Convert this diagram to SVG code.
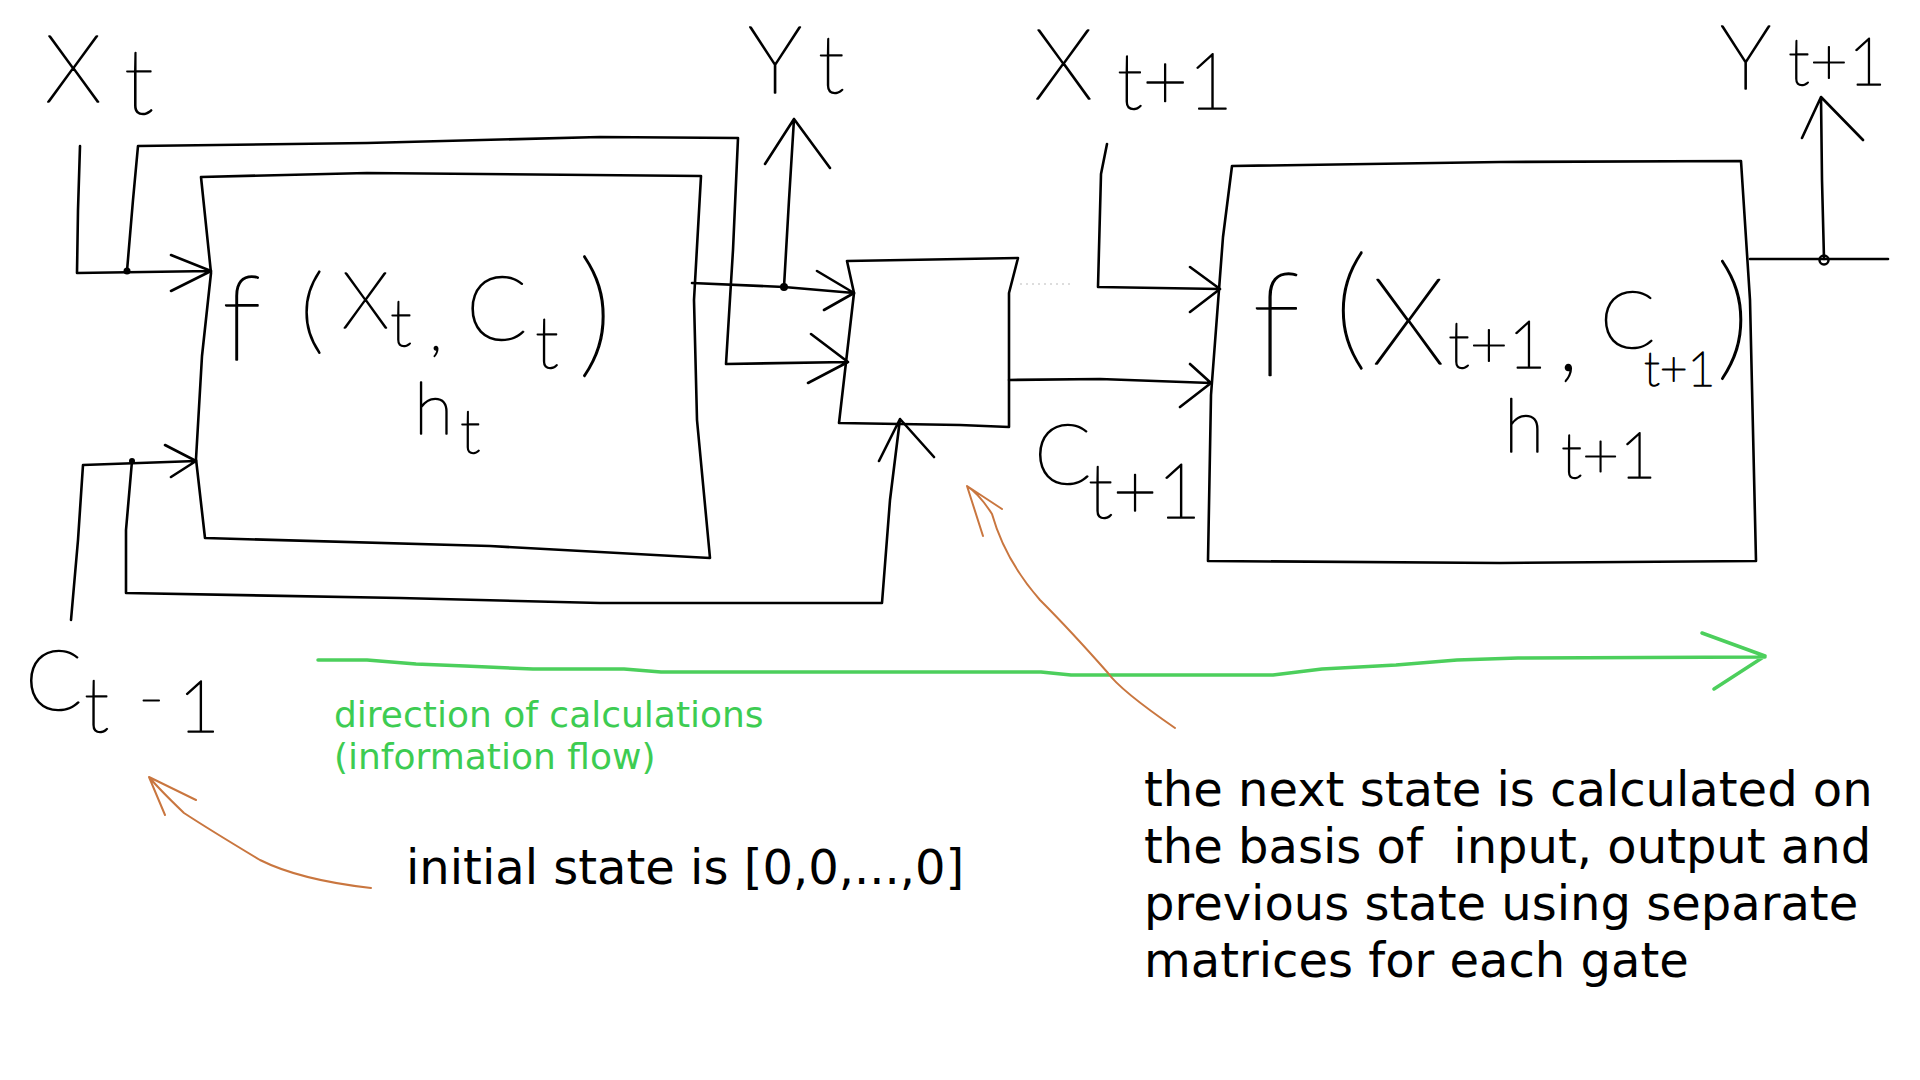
<svg xmlns="http://www.w3.org/2000/svg" width="1920" height="1080" viewBox="0 0 1920 1080">
<style>
.ln{fill:none;stroke:#000;stroke-width:2.6;stroke-linejoin:round;stroke-linecap:round}
.box{fill:none;stroke:#000;stroke-width:2.6;stroke-linejoin:round}
.hw{font-family:Lato,"Liberation Sans",sans-serif;font-weight:100;fill:#000;stroke:#000;stroke-width:1.5;stroke-linejoin:round}
.gr{fill:none;stroke:#4ccf5c;stroke-width:3.5;stroke-linejoin:round;stroke-linecap:round}
.or{fill:none;stroke:#c9763f;stroke-width:2;stroke-linejoin:round;stroke-linecap:round}
.txt{font-family:"DejaVu Sans",sans-serif;font-size:48px;fill:#000}
.gtxt{font-family:"DejaVu Sans",sans-serif;font-size:36px;fill:#3dcc52}
</style>
<rect width="1920" height="1080" fill="#fff"/>

<g id="label-xt">
<text class="hw"><tspan x="45" y="102" font-size="94">X</tspan><tspan x="124" y="114" font-size="90">t</tspan></text>
</g>
<g id="label-yt">
<text class="hw"><tspan x="748" y="93" font-size="95">Y</tspan><tspan x="818" y="93" font-size="80">t</tspan></text>
</g>
<g id="label-xt1">
<text class="hw"><tspan x="1034" y="99" font-size="98">X</tspan><tspan x="1117" y="109" font-size="78">t+1</tspan></text>
</g>
<g id="label-yt1">
<text class="hw"><tspan x="1720" y="89" font-size="90">Y</tspan><tspan x="1788" y="85" font-size="66">t+1</tspan></text>
</g>
<g id="label-ct-1">
<text class="hw"><tspan x="25" y="710" font-size="84">C</tspan><tspan x="84" y="732" font-size="76">t</tspan><tspan x="138" y="722" font-size="72">-</tspan><tspan x="178" y="732" font-size="72">1</tspan></text>
</g>
<g id="label-ct1">
<text class="hw"><tspan x="1034" y="484" font-size="84">C</tspan><tspan x="1088" y="518" font-size="76">t+1</tspan></text>
</g>

<g id="node-cell-t">
<path class="box" d="M201,177 L367,173 L701,176 L694,300 L697,420 L710,558 L490,546 L205,538 L196,459 L202,356 L211,273 Z"/>
<text class="hw"><tspan x="222" y="360" font-size="118">f</tspan><tspan x="300" y="342" font-size="95">(</tspan><tspan x="342" y="328" font-size="78">X</tspan><tspan x="390" y="346" font-size="66">t</tspan></text>
<text class="hw" x="430" y="350" font-size="56">,</text>
<text class="hw"><tspan x="466" y="340" font-size="90">C</tspan><tspan x="535" y="368" font-size="72">t</tspan></text>
<text class="hw" x="578" y="360" font-size="139">)</text>
<text class="hw"><tspan x="414" y="434" font-size="72">h</tspan><tspan x="460" y="453" font-size="62">t</tspan></text>
</g>

<g id="node-merge">
<path class="box" d="M847,261 L1018,258 L1009,293 L1009,427 L960,425 L839,423 L854,293 Z"/>
</g>

<g id="node-cell-t1">
<path class="box" d="M1232,166 L1500,162 L1741,161 L1750,300 L1756,561 L1500,563 L1208,561 L1211,395 L1223,237 Z"/>
<text class="hw"><tspan x="1252" y="376" font-size="145">f</tspan><tspan x="1334" y="353" font-size="134">(</tspan><tspan x="1372" y="364" font-size="121">X</tspan></text>
<text class="hw"><tspan x="1448" y="368" font-size="66">t+1</tspan><tspan x="1558" y="370" font-size="96">,</tspan></text>
<text class="hw"><tspan x="1600" y="348" font-size="81">C</tspan><tspan x="1644" y="386" font-size="48">t+1</tspan></text>
<text class="hw" x="1716" y="363" font-size="137">)</text>
<text class="hw"><tspan x="1504" y="452" font-size="74">h</tspan><tspan x="1561" y="478" font-size="64">t+1</tspan></text>
</g>

<g id="connectors">
<path class="ln" d="M80,146 L78,210 L77,273 L211,271 M171,255 L211,271 L171,291"/>
<path class="ln" d="M127,271 L133,200 L138,146 L367,143 L600,137 L738,138 L733,250 L726,364 L848,362 M811,334 L848,362 L808,383"/>
<path class="ln" d="M692,283 L784,287 L854,293 M817,271 L854,293 L824,310"/>
<path class="ln" d="M784,287 L789,200 L794,119 M765,164 L794,119 L830,168"/>
<path class="ln" d="M71,620 L78,540 L83,465 L196,461 M165,445 L196,461 L171,477"/>
<path class="ln" d="M132,461 L126,530 L126,593 L400,598 L600,603 L882,603 L890,500 L900,419 M879,461 L900,419 L934,457"/>
<path class="ln" d="M1009,380 L1100,379 L1211,383 M1190,364 L1211,383 L1180,407"/>
<path d="M1020,284 L1070,284" fill="none" stroke="#ddd" stroke-width="2" stroke-dasharray="2 4"/>
<path class="ln" d="M1107,144 L1101,174 L1098,287 L1220,289 M1190,267 L1220,289 L1190,312"/>
<path class="ln" d="M1750,259 L1888,259"/>
<path class="ln" d="M1824,259 L1822,180 L1821,97 M1802,138 L1821,97 L1863,140"/>
<circle cx="127" cy="271" r="3.5" fill="#000"/>
<circle cx="132" cy="461" r="3" fill="#000"/>
<circle cx="784" cy="287" r="4" fill="#000"/>
<circle cx="1824" cy="260" r="4.5" fill="none" stroke="#000" stroke-width="2.5"/>
</g>

<g id="flow-arrow">
<path class="gr" d="M318,660 L367,660 L416,664 L465,666 L533,669 L624,669 L661,672 L1041,672 L1071,675 L1273,675 L1322,669 L1396,665 L1457,660 L1518,658 L1765,657 M1702,633 L1765,656 L1714,689"/>
<text class="gtxt"><tspan x="334" y="727">direction of calculations</tspan><tspan x="334" y="769">(information flow)</tspan></text>
</g>

<g id="note-initial">
<path class="or" d="M371,888 Q300,880 260,860 Q210,830 184,813 Q160,790 149,777 M196,800 L149,777 L165,815"/>
<text class="txt" x="406" y="884">initial state is [0,0,...,0]</text>
</g>

<g id="note-next">
<path class="or" d="M1175,728 Q1120,690 1108,673 Q1070,630 1040,600 Q1005,560 992,514 Q980,495 967,486 M1002,509 L967,486 L983,536"/>
<text class="txt" xml:space="preserve"><tspan x="1144" y="806">the next state is calculated on</tspan><tspan x="1144" y="863">the basis of  input, output and</tspan><tspan x="1144" y="920">previous state using separate</tspan><tspan x="1144" y="977">matrices for each gate</tspan></text>
</g>
</svg>
